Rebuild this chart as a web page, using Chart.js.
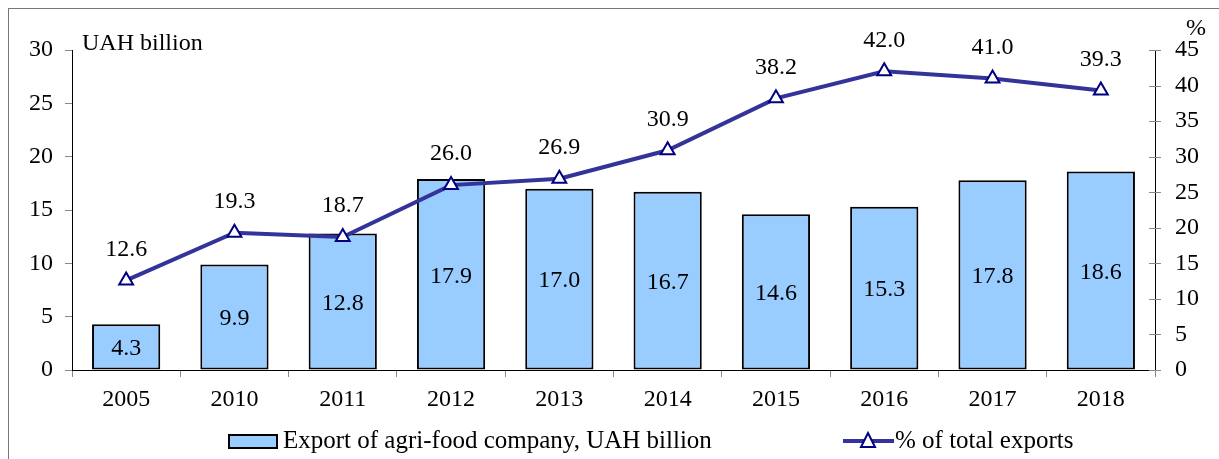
<!DOCTYPE html>
<html>
<head>
<meta charset="utf-8">
<script src="https://cdn.jsdelivr.net/npm/chart.js@4/dist/chart.umd.min.js"></script>
<style>
    body { margin: 0; background: #fff; }
    #wrap { position: relative; width: 1219px; height: 459px; overflow: hidden; }
    #frame { position: absolute; left: 8px; top: 8px; width: 1230px; height: 480px; border: 1px solid #777; box-sizing: border-box; }
    canvas { position: absolute; left: 0; top: 0; }
</style>
</head>
<body>
<div id="wrap">
    <div id="frame"></div>
    <canvas id="chart" width="1219" height="459"></canvas>
</div>
<script>
const years = ['2005', '2010', '2011', '2012', '2013', '2014', '2015', '2016', '2017', '2018'];
const exportUah = [4.3, 9.9, 12.8, 17.9, 17.0, 16.7, 14.6, 15.3, 17.8, 18.6];
const shareOfTotal = [12.6, 19.3, 18.7, 26.0, 26.9, 30.9, 38.2, 42.0, 41.0, 39.3];
const leftTicks = [0, 5, 10, 15, 20, 25, 30];
const rightTicks = [0, 5, 10, 15, 20, 25, 30, 35, 40, 45];

const serif = '"Liberation Serif", "Times New Roman", serif';
const barFill = '#99CCFF';
const lineColor = '#333399';
const markerColor = '#000080';

// value labels, axis captions, crossing ticks on the right axis, legend
const extras = {
    id: 'extras',
    afterDatasetsDraw(chart) {
        const ctx = chart.ctx;
        const area = chart.chartArea;
        ctx.save();
        ctx.font = '24px ' + serif;
        ctx.fillStyle = '#000';
        ctx.textAlign = 'center';
        ctx.textBaseline = 'middle';

        chart.getDatasetMeta(0).data.forEach((bar, i) => {
            ctx.fillText(exportUah[i].toFixed(1), bar.x, (bar.y + bar.base) / 2 + 2);
        });
        chart.getDatasetMeta(1).data.forEach((pt, i) => {
            ctx.fillText(shareOfTotal[i].toFixed(1), pt.x, pt.y - 31);
        });

        ctx.textAlign = 'left';
        ctx.fillText('UAH billion', area.left + 10, area.top - 6);
        ctx.fillText('%', area.right + 31, area.top - 21);

        // right axis ticks cross the axis line
        const yr = chart.scales.yRight;
        ctx.strokeStyle = '#888';
        ctx.lineWidth = 1;
        rightTicks.forEach(v => {
            const y = Math.round(yr.getPixelForValue(v)) + 0.5;
            ctx.beginPath();
            ctx.moveTo(area.right - 6, y);
            ctx.lineTo(area.right + 6, y);
            ctx.stroke();
        });

        // legend
        const ly = 441;
        ctx.fillStyle = barFill;
        ctx.strokeStyle = '#000';
        ctx.lineWidth = 2;
        ctx.fillRect(229, ly - 6, 48, 13);
        ctx.strokeRect(229, ly - 6, 48, 13);
        ctx.fillStyle = '#000';
        ctx.font = '25px ' + serif;
        ctx.fillText('Export of agri-food company, UAH billion', 283, ly);

        ctx.strokeStyle = lineColor;
        ctx.lineWidth = 4;
        ctx.beginPath();
        ctx.moveTo(843, ly);
        ctx.lineTo(894, ly);
        ctx.stroke();
        ctx.fillStyle = '#fff';
        ctx.strokeStyle = markerColor;
        ctx.lineWidth = 2;
        ctx.beginPath();
        ctx.moveTo(868, ly - 8);
        ctx.lineTo(875, ly + 6);
        ctx.lineTo(861, ly + 6);
        ctx.closePath();
        ctx.fill();
        ctx.stroke();
        ctx.fillStyle = '#000';
        ctx.fillText('% of total exports', 895, ly);
        ctx.restore();
    }
};

new Chart(document.getElementById('chart'), {
    type: 'bar',
    data: {
        labels: years,
        datasets: [
            {
                type: 'bar',
                label: 'Export of agri-food company, UAH billion',
                data: exportUah,
                yAxisID: 'yLeft',
                backgroundColor: barFill,
                borderColor: '#000',
                borderWidth: 2,
                borderSkipped: false,
                categoryPercentage: 0.63,
                barPercentage: 1,
                order: 2
            },
            {
                type: 'line',
                label: '% of total exports',
                data: shareOfTotal,
                yAxisID: 'yRight',
                borderColor: lineColor,
                borderWidth: 4,
                tension: 0,
                pointStyle: 'triangle',
                pointRadius: 8,
                pointBackgroundColor: '#fff',
                pointBorderColor: markerColor,
                pointBorderWidth: 2,
                order: 1
            }
        ]
    },
    options: {
        responsive: false,
        animation: false,
        layout: { padding: { top: 50, left: 0, right: 0, bottom: 0 } },
        plugins: {
            legend: { display: false },
            tooltip: { enabled: false }
        },
        scales: {
            x: {
                offset: true,
                grid: { offset: true, drawOnChartArea: false, tickLength: 7, color: '#888' },
                border: { color: '#000', width: 1 },
                ticks: { color: '#000', font: { family: serif, size: 24 }, padding: 8 },
                afterFit(scale) { scale.height = 89; }
            },
            yLeft: {
                position: 'left',
                min: 0,
                max: 30,
                afterBuildTicks(scale) { scale.ticks = leftTicks.map(v => ({ value: v })); },
                grid: { drawOnChartArea: false, tickLength: 7, color: '#888' },
                border: { color: '#000', width: 1 },
                ticks: { color: '#000', font: { family: serif, size: 24 }, padding: 12 },
                afterFit(scale) { scale.width = 72; }
            },
            yRight: {
                position: 'right',
                min: 0,
                max: 45,
                afterBuildTicks(scale) { scale.ticks = rightTicks.map(v => ({ value: v })); },
                grid: { drawOnChartArea: false, drawTicks: false },
                border: { color: '#000', width: 1 },
                ticks: { color: '#000', font: { family: serif, size: 24 }, padding: 20 },
                afterFit(scale) { scale.width = 64; }
            }
        }
    },
    plugins: [extras]
});
</script>
</body>
</html>
